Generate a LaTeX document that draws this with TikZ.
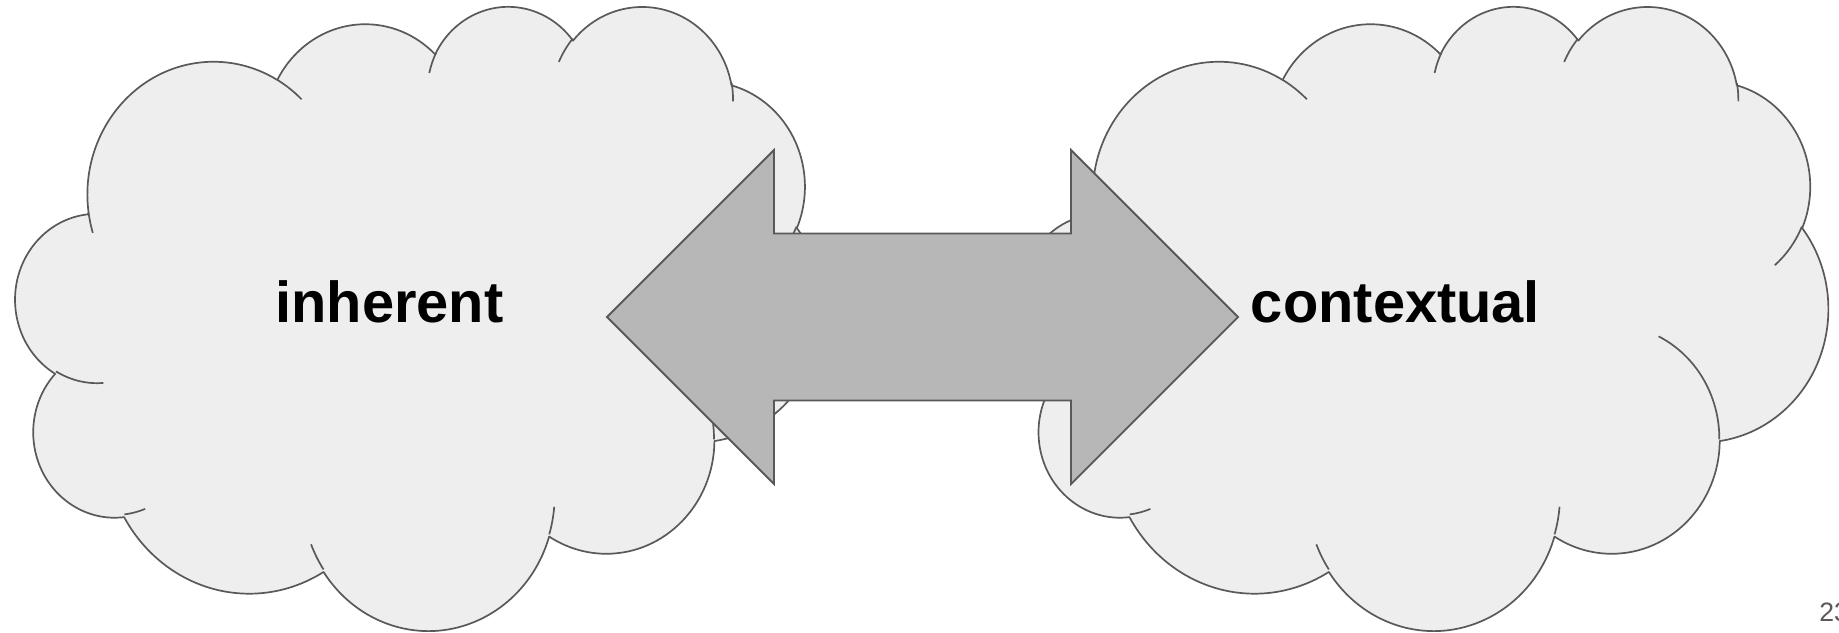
\documentclass[tikz,border=0pt]{standalone}
\usepackage{fontspec}
\setmainfont{Liberation Sans}
\definecolor{cloudfill}{HTML}{EEEEEE}
\definecolor{edgegray}{HTML}{595959}
\definecolor{arrowfill}{HTML}{B7B7B7}
\definecolor{pagegray}{HTML}{595959}

% convert visual start/sweep angles (DrawingML) to parametric ellipse angles
\newcommand\cldprep[5]{%
  \pgfmathsetmacro\cldtmpa{atan2((#2)*sin(#4),(#3)*cos(#4))}%
  \pgfmathsetmacro\cldtmpb{atan2((#2)*sin((#4)+(#5)),(#3)*cos((#4)+(#5)))}%
  \pgfmathsetmacro\cldtmpd{\cldtmpb-\cldtmpa}%
  \pgfmathsetmacro\cldtmpd{\cldtmpd-360*round((\cldtmpd-(#5))/360)}%
  \pgfmathsetmacro\cldtmpe{\cldtmpa+\cldtmpd}%
  \expandafter\xdef\csname #1s\endcsname{\cldtmpa}%
  \expandafter\xdef\csname #1e\endcsname{\cldtmpe}%
}
\cldprep{cldFA}{67.53}{91.90}{-190.48748}{123.78053}
\cldprep{cldFB}{53.33}{72.67}{-144.10238}{89.94523}
\cldprep{cldFC}{43.65}{59.45}{-145.80792}{99.72302}
\cldprep{cldFD}{48.57}{65.95}{-130.98607}{117.24173}
\cldprep{cldFE}{53.33}{72.73}{-78.70888}{109.02692}
\cldprep{cldFF}{67.75}{92.20}{-46.26725}{130.26900}
\cldprep{cldFG}{57.85}{78.67}{0.62502}{114.03333}
\cldprep{cldFH}{67.52}{92.15}{22.45160}{115.17255}
\cldprep{cldFI}{77.20}{105.43}{66.24263}{75.71102}
\cldprep{cldFJ}{43.60}{59.18}{-274.94208}{146.73557}
\cldprep{cldFK}{43.45}{59.45}{-246.82850}{152.52377}
\cldprep{cldLa}{43.45}{59.45}{86.74200}{26.42950}
\cldprep{cldLb}{43.60}{59.18}{73.61047}{11.44747}
\cldprep{cldLc}{67.52}{92.15}{137.62415}{14.08110}
\cldprep{cldLd}{67.52}{92.15}{6.45327}{15.99835}
\cldprep{cldLe}{57.85}{78.67}{-70.29235}{70.91737}
\cldprep{cldLf}{53.33}{72.73}{30.31803}{27.75150}
\cldprep{cldLg}{48.57}{65.95}{-13.74433}{14.85890}
\cldprep{cldLh}{48.57}{65.95}{-149.18145}{18.19537}
\cldprep{cldLi}{43.65}{59.45}{-163.49427}{17.68635}
\cldprep{cldLj}{67.53}{91.90}{-66.70695}{12.31935}
\cldprep{cldLk}{67.53}{91.90}{157.65435}{11.85817}

\tikzset{
  cloudshape/.style={fill=cloudfill, draw=edgegray, line width=0.85pt, line join=round},
  cloudline/.style={draw=edgegray, line width=0.85pt},
  bigarrow/.style={fill=arrowfill, draw=edgegray, line width=0.9pt, line join=miter},
  cloudtext/.style={font=\fontsize{28.9}{30}\selectfont\bfseries, inner sep=0pt, text=black, anchor=base},
  pagetext/.style={font=\fontsize{13.3}{15}\selectfont, inner sep=0pt, text=pagegray, anchor=base west},
}

\newcommand\cldbody{%
  \path[cloudshape] (39.00,143.70)
    arc[start angle=\cldFAs, end angle=\cldFAe, x radius=67.53, y radius=91.90]
    arc[start angle=\cldFBs, end angle=\cldFBe, x radius=53.33, y radius=72.67]
    arc[start angle=\cldFCs, end angle=\cldFCe, x radius=43.65, y radius=59.45]
    arc[start angle=\cldFDs, end angle=\cldFDe, x radius=48.57, y radius=65.95]
    arc[start angle=\cldFEs, end angle=\cldFEe, x radius=53.33, y radius=72.73]
    arc[start angle=\cldFFs, end angle=\cldFFe, x radius=67.75, y radius=92.20]
    arc[start angle=\cldFGs, end angle=\cldFGe, x radius=57.85, y radius=78.67]
    arc[start angle=\cldFHs, end angle=\cldFHe, x radius=67.52, y radius=92.15]
    arc[start angle=\cldFIs, end angle=\cldFIe, x radius=77.20, y radius=105.43]
    arc[start angle=\cldFJs, end angle=\cldFJe, x radius=43.60, y radius=59.18]
    arc[start angle=\cldFKs, end angle=\cldFKe, x radius=43.45, y radius=59.45]
    -- cycle;
  \draw[cloudline] (46.93,261.77) arc[start angle=\cldLas, end angle=\cldLae, x radius=43.45, y radius=59.45];
  \draw[cloudline] (69.28,348.99) arc[start angle=\cldLbs, end angle=\cldLbe, x radius=43.60, y radius=59.18];
  \draw[cloudline] (164.78,390.90) arc[start angle=\cldLcs, end angle=\cldLce, x radius=67.52, y radius=92.15];
  \draw[cloudline] (288.27,347.51) arc[start angle=\cldLds, end angle=\cldLde, x radius=67.52, y radius=92.15];
  \draw[cloudline] (341.29,229.54) arc[start angle=\cldLes, end angle=\cldLee, x radius=57.85, y radius=78.67];
  \draw[cloudline] (417.98,153.54) arc[start angle=\cldLfs, end angle=\cldLfe, x radius=53.33, y radius=72.73];
  \draw[cloudline] (383.24,54.26) arc[start angle=\cldLgs, end angle=\cldLge, x radius=48.57, y radius=65.95];
  \draw[cloudline] (290.78,39.52) arc[start angle=\cldLhs, end angle=\cldLhe, x radius=48.57, y radius=65.95];
  \draw[cloudline] (221.41,47.20) arc[start angle=\cldLis, end angle=\cldLie, x radius=43.65, y radius=59.45];
  \draw[cloudline] (140.00,51.92) arc[start angle=\cldLjs, end angle=\cldLje, x radius=67.53, y radius=91.90];
  \draw[cloudline] (41.27,157.89) arc[start angle=\cldLks, end angle=\cldLke, x radius=67.53, y radius=91.90];
}

\begin{document}
\begin{tikzpicture}[x=0.5pt, y=-0.5pt]
  \fill[white] (0,0) rectangle (1839,632);
  \useasboundingbox (0,0) rectangle (1839,632);

  % left cloud
  \begin{scope}[shift={(15.7,4.8)}, x=0.93403pt, y=-0.72222pt]
    \cldbody
  \end{scope}
  % right cloud
  \begin{scope}[shift={(1021,4.8)}, x=0.93403pt, y=-0.72222pt]
    \cldbody
  \end{scope}

  % double arrow
  \draw[bigarrow] (607,317) -- (774,150) -- (774,233.5) -- (1071,233.5) -- (1071,150)
    -- (1238,317) -- (1071,484) -- (1071,400.5) -- (774,400.5) -- (774,484) -- cycle;

  \node[cloudtext] (inherent) at (389.5,322.7) {inherent};
  \node[cloudtext] (contextual) at (1395.5,322.7) {contextual};
  \node[pagetext] (pagenum) at (1819,621.7) {23};
\end{tikzpicture}
\end{document}
